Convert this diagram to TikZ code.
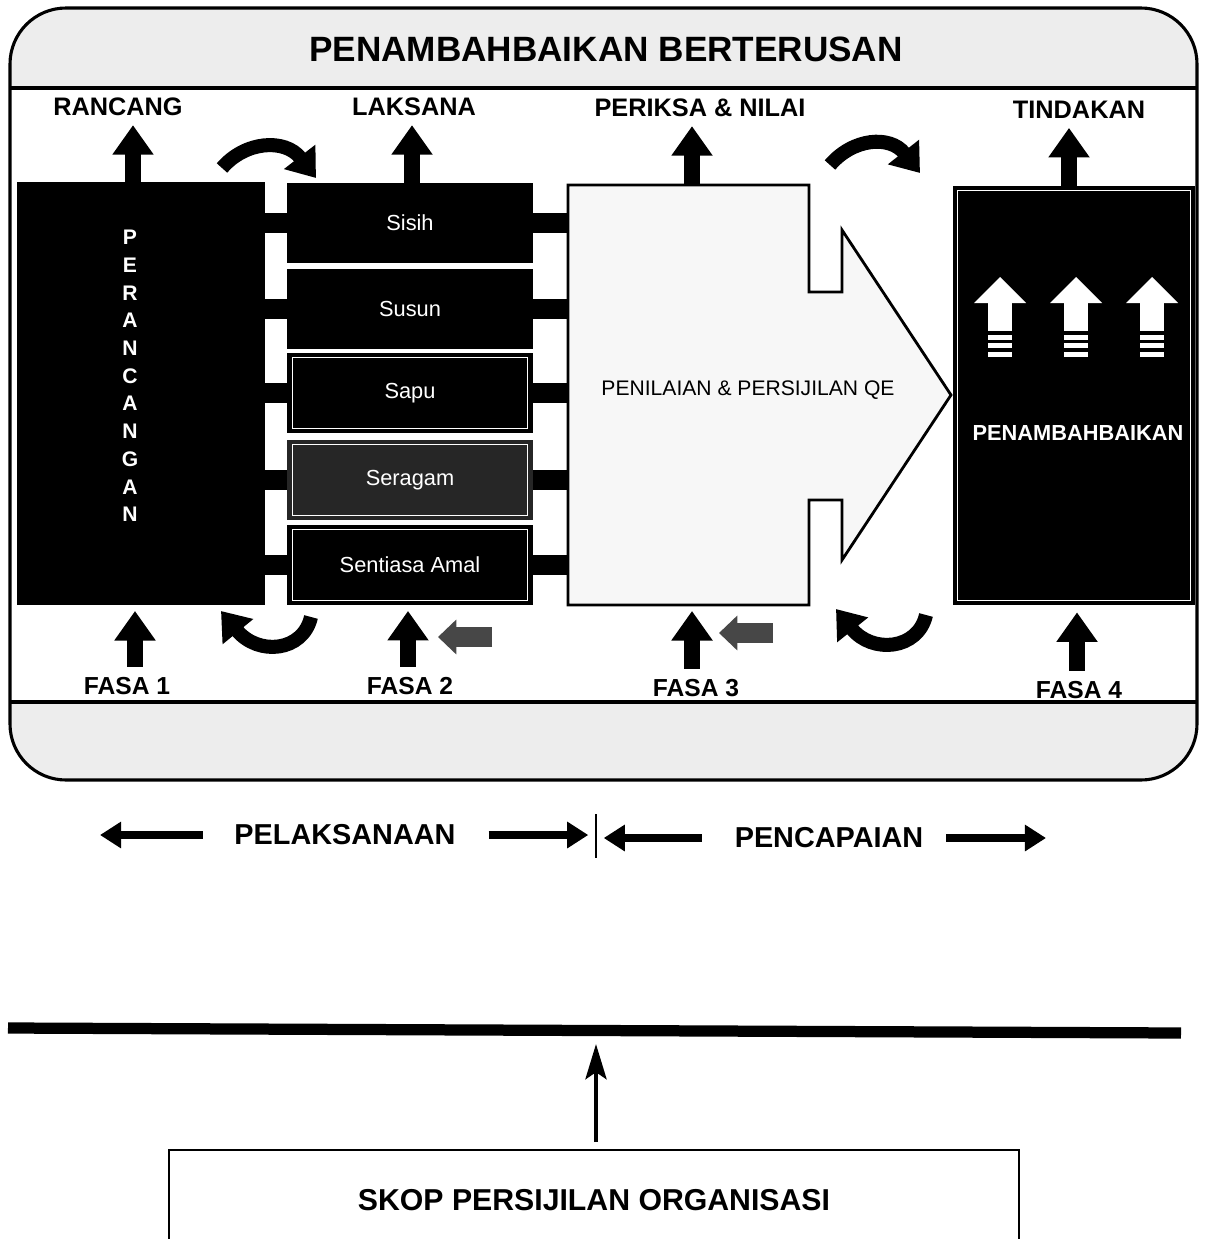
\documentclass[tikz,border=0pt]{standalone}
\usepackage{fontspec}
\setmainfont{Liberation Sans}
\usetikzlibrary{arrows.meta,positioning}
\begin{document}
\begin{tikzpicture}[
    x=0.025cm, y=-0.025cm,
    frame/.style={line width=2.2pt},
    band/.style={fill=black!7},
    head/.style={font=\fontsize{18}{20}\selectfont\bfseries},
    phase/.style={font=\fontsize{17.5}{20}\selectfont\bfseries},
    sbox/.style={fill=black,text=white,minimum width=6.125cm,minimum height=2cm,
        inner sep=0pt,font=\fontsize{15.5}{18}\selectfont},
    rim/.style={draw=white,line width=0.6pt},
    blockup/.style={line width=11.5pt,-{Triangle[width=28pt,length=21pt]}},
    swing/.style={line width=10pt,-{Triangle[width=27pt,length=19pt]}},
    nudge/.style={line width=14pt,black!72,-{Triangle[width=24pt,length=13pt]}},
    bar/.style={line width=14pt},
    spanarrow/.style={line width=5pt,-{Triangle[width=18pt,length=15pt]}},
    big/.style={font=\fontsize{20.5}{24}\selectfont\bfseries}]
    \useasboundingbox (0,0) rectangle (1205,1239);
    \clip (0,0) rectangle (1205,1239);
    \begin{scope}
        \clip[rounded corners=1.4cm] (10,8) rectangle (1197,780);
        \fill[band] (10,8) rectangle (1197,88);
        \fill[band] (10,702) rectangle (1197,780);
    \end{scope}
    \draw[frame,rounded corners=1.4cm] (10,8) rectangle (1197,780);
    \draw[frame] (10,88) -- (1197,88) (10,702) -- (1197,702);
    \node[font=\fontsize{25}{28}\selectfont\bfseries] (title) at (606,49) {PENAMBAHBAIKAN BERTERUSAN};

    \node[head] (rancang) at (118,107) {RANCANG};
    \node[head] (laksana) at (414,107) {LAKSANA};
    \node[head] (periksa) at (700,108) {PERIKSA \& NILAI};
    \node[head] (tindakan) at (1079,110) {TINDAKAN};
    \node[phase] (fasa1) at (127,686) {FASA 1};
    \node[phase] (fasa2) at (410,686) {FASA 2};
    \node[phase] (fasa3) at (696,688) {FASA 3};
    \node[phase] (fasa4) at (1079,690) {FASA 4};

    \node[fill=black,minimum width=6.175cm,minimum height=10.575cm] (perancangan) at (141,393.5) {};
    \node[text=white,align=center,font=\fontsize{15}{19.7}\selectfont\bfseries]
        (perancangantext) at (130,376) {P\\E\\R\\A\\N\\C\\A\\N\\G\\A\\N};

    \node[sbox] (sisih) at (410,223) {Sisih};
    \node[sbox] (susun) at (410,309) {Susun};
    \node[sbox] (sapu) at (410,393) {Sapu};
    \node[sbox,fill=black!85] (seragam) at (410,480) {Seragam};
    \node[sbox] (amal) at (410,565) {Sentiasa Amal};
    \foreach \b in {sapu,seragam,amal}
        \draw[rim] ([shift={(5,5)}]\b.north west) rectangle ([shift={(-5,-5)}]\b.south east);

    \draw[fill=black!3,line width=2pt] (568,185) -- (809,185) -- (809,292) -- (842,292)
        -- (842,230) -- (951,395) -- (842,560) -- (842,500) -- (809,500) -- (809,605)
        -- (568,605) -- cycle;
    \node[minimum width=6.025cm,minimum height=10.5cm,inner sep=0pt] (penilaian) at (688.5,395) {};
    \node[font=\fontsize{15}{18}\selectfont] (qe) at (748,390) {PENILAIAN \& PERSIJILAN QE};

    \node[fill=black,minimum width=6.05cm,minimum height=10.475cm] (penambahbaikan) at (1074,395.5) {};
    \draw[rim] ([shift={(5,5)}]penambahbaikan.north west) rectangle ([shift={(-5,-5)}]penambahbaikan.south east);
    \node[text=white,font=\fontsize{15.5}{18}\selectfont\bfseries] (pbtext) at (1078,433) {PENAMBAHBAIKAN};
    \foreach \x in {1000,1076,1152}{
        \fill[white] (\x-26,303) -- (\x,277) -- (\x+26,303) -- cycle;
        \fill[white] (\x-12,302) rectangle (\x+12,331);
        \foreach \y in {335,343,352}
            \fill[white] (\x-12,\y) rectangle (\x+12,\y+5);
    }

    \foreach \b in {sisih,susun,sapu,seragam,amal}{
        \draw[bar] (perancangan.east |- \b.west) -- (\b.west);
        \draw[bar] (\b.east) -- (penilaian.west |- \b.east);
    }

    \coordinate (up1) at (133,0);
    \coordinate (up2) at (412,0);
    \coordinate (up3) at (692,0);
    \coordinate (up4) at (1069,0);
    \coordinate (dn1) at (135,0);
    \coordinate (dn2) at (408,0);
    \coordinate (dn3) at (692,0);
    \coordinate (dn4) at (1077,0);
    \draw[blockup,shorten >=3pt] (perancangan.north -| up1) -- (rancang.south -| up1);
    \draw[blockup,shorten >=3pt] (sisih.north -| up2) -- (laksana.south -| up2);
    \draw[blockup,shorten >=3pt] (penilaian.north -| up3) -- (periksa.south -| up3);
    \draw[blockup,shorten >=3pt] (penambahbaikan.north -| up4) -- (tindakan.south -| up4);
    \draw[blockup,shorten <=4pt,shorten >=4pt] (fasa1.north -| dn1) -- (perancangan.south -| dn1);
    \draw[blockup,shorten <=4pt,shorten >=4pt] (fasa2.north -| dn2) -- (amal.south -| dn2);
    \draw[blockup,shorten <=4pt,shorten >=4pt] (fasa3.north -| dn3) -- (penilaian.south -| dn3);
    \draw[blockup,shorten <=4pt,shorten >=5pt] (fasa4.north -| dn4) -- (penambahbaikan.south -| dn4);

    \draw[swing] (222,168) .. controls (245,141) and (285,138) .. (316,178);
    \draw[swing] (830,165) .. controls (853,138) and (890,135) .. (920,173);
    \draw[swing] (311,617) .. controls (303,652) and (258,656) .. (221,611);
    \draw[swing] (926,615) .. controls (918,650) and (872,654) .. (836,609);
    \draw[nudge] (492,637) -- (438,637);
    \draw[nudge] (773,633) -- (719,633);

    \node[big] (pelaksanaan) at (345,835) {PELAKSANAAN};
    \node[big] (pencapaian) at (829,838) {PENCAPAIAN};
    \coordinate (divide) at (596,836);
    \coordinate (farleft) at (100,835);
    \coordinate (farright) at (1046,838);
    \draw[line width=1.2pt] (divide) ++(0,-22) -- ++(0,44);
    \draw[spanarrow] ([xshift=-19pt]pelaksanaan.west) -- (farleft);
    \draw[spanarrow] ([xshift=20pt]pelaksanaan.east) -- ([xshift=-5.5pt]divide |- pelaksanaan);
    \draw[spanarrow] ([xshift=-20pt]pencapaian.west) -- ([xshift=5.5pt]divide |- pencapaian);
    \draw[spanarrow] ([xshift=13pt]pencapaian.east) -- (farright);

    \coordinate (barleft) at (8,1028);
    \coordinate (barright) at (1181,1033);
    \draw[line width=8pt] (barleft) -- (barright);
    \node[draw,line width=1.1pt,minimum width=21.25cm,minimum height=2.5cm,
        font=\fontsize{21.5}{24}\selectfont\bfseries] (skop) at (594,1200) {SKOP PERSIJILAN ORGANISASI};
    \coordinate (barmid) at (596,1030);
    \draw[line width=3pt,-{Stealth[width=15pt,length=25pt,inset=5pt]},shorten <=5pt,shorten >=10pt]
        (skop.north -| barmid) -- (barmid);
\end{tikzpicture}
\end{document}
